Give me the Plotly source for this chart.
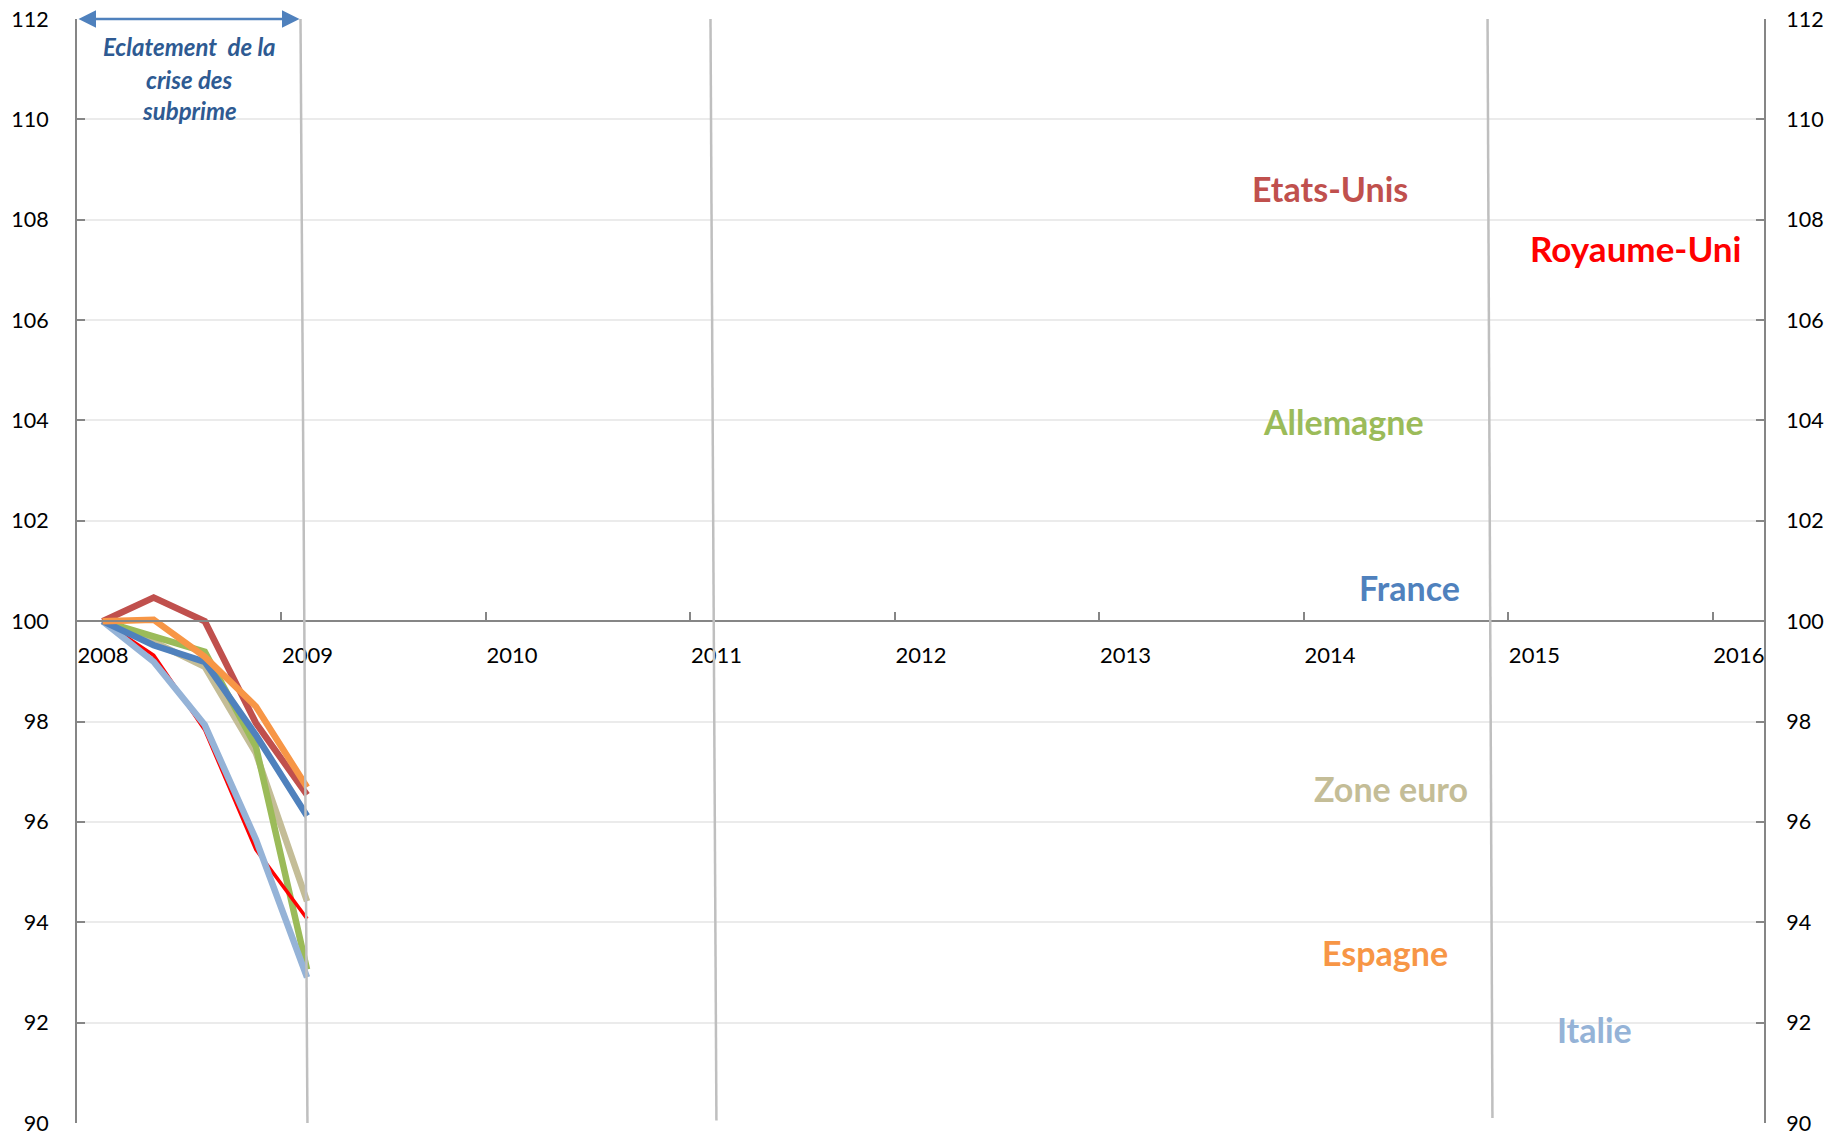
import plotly.graph_objects as go

# ---- data ----
quarters = [2008.125, 2008.375, 2008.625, 2008.875, 2009.125]
etats_unis = [100.0, 100.47, 100.0, 97.97, 96.54]
royaume_uni = [100.0, 99.32, 97.83, 95.45, 94.07]
allemagne = [100.0, 99.69, 99.39, 97.50, 93.06]
france = [100.0, 99.52, 99.19, 97.73, 96.12]
zone_euro = [100.0, 99.59, 99.09, 97.37, 94.42]
espagne = [100.0, 100.03, 99.29, 98.30, 96.69]
italie = [100.0, 99.19, 97.93, 95.65, 92.90]

year_ticks = [2008, 2009, 2010, 2011, 2012, 2013, 2014, 2015, 2016]
year_labels = [str(y) for y in year_ticks]
y_ticks = list(range(90, 113, 2))

# event markers (top x, bottom x) in years
event_lines = [(2009.093, 2009.127), (2011.098, 2011.127), (2014.898, 2014.922)]
event_bottoms = [90.0, 90.05, 90.1]

series = [
    ("Zone euro", zone_euro, "#C4BD97", 6.5, 2014.424, 96.66),
    ("Allemagne", allemagne, "#9BBB59", 6.5, 2014.195, 103.98),
    ("Royaume-Uni", royaume_uni, "#FF0000", 3.6, 2015.624, 107.44),
    ("Italie", italie, "#95B3D7", 6.5, 2015.42, 91.87),
    ("Etats-Unis", etats_unis, "#C0504D", 6.5, 2014.127, 108.63),
    ("France", france, "#4F81BD", 6.5, 2014.517, 100.68),
    ("Espagne", espagne, "#F79646", 6.5, 2014.395, 93.40),
]

FONT = "Lato"
AXIS_COLOR = "#868686"

fig = go.Figure()
for name, vals, color, w, lx, ly in series:
    fig.add_trace(go.Scatter(x=quarters, y=vals, mode="lines", name=name,
                             line=dict(color=color, width=w), showlegend=False,
                             hoverinfo="skip"))
    size = 35 if name == "Royaume-Uni" else 34
    fig.add_annotation(x=lx, y=ly, text="<b>%s</b>" % name, showarrow=False,
                       font=dict(family=FONT, size=size, color=color),
                       xanchor="center", yanchor="middle")

# dummy trace for right axis
fig.add_trace(go.Scatter(x=[None], y=[None], yaxis="y2", showlegend=False))

for (xt, xb), yb in zip(event_lines, event_bottoms):
    fig.add_shape(type="line", xref="x", yref="y", x0=xt, y0=112, x1=xb, y1=yb,
                  line=dict(color="#BFBFBF", width=2.5), layer="above")

# double arrow "Eclatement de la crise des subprime"
fig.add_annotation(x=2009.088, y=112, ax=2008.0, ay=112, xref="x", yref="y",
                   axref="x", ayref="y", text="", showarrow=True,
                   arrowhead=2, startarrowhead=2, arrowside="end+start",
                   arrowsize=1.4, startarrowsize=1.4, arrowwidth=2.5,
                   arrowcolor="#4F81BD")
subprime_lines = ["Eclatement  de la", "crise des", "subprime"]
subprime_y = [111.45, 110.8, 110.17]
for txt, yy in zip(subprime_lines, subprime_y):
    fig.add_annotation(x=2008.551, y=yy, text="<b><i>%s</i></b>" % txt,
                       showarrow=False, xanchor="center", yanchor="middle",
                       font=dict(family=FONT, size=24, color="#2E5A92"))

yaxis_common = dict(range=[90, 112], tickvals=y_ticks, ticks="inside",
                    ticklen=8, tickwidth=2, tickcolor=AXIS_COLOR,
                    showline=True, linecolor=AXIS_COLOR, linewidth=2,
                    zeroline=False, automargin=False, ticklabeloverflow="allow",
                    tickfont=dict(family=FONT, size=21.5, color="#000"))

fig.update_layout(
    width=1833, height=1137,
    margin=dict(l=77, r=69, t=19, b=14, autoexpand=False),
    plot_bgcolor="white", paper_bgcolor="white",
    xaxis=dict(range=[2008.0, 2016.25], tickvals=year_ticks, ticktext=year_labels,
               ticks="inside", ticklen=8, tickwidth=2, tickcolor=AXIS_COLOR,
               showline=True, linecolor=AXIS_COLOR, linewidth=2,
               showgrid=False, zeroline=False, anchor="free",
               position=(100 - 90) / 22, automargin=False,
               ticklabeloverflow="allow",
               tickfont=dict(family=FONT, size=22, color="#000"),
               ticklabelshift=26, ticklabelstandoff=14),
    yaxis=dict(**yaxis_common, side="left", showgrid=True,
               gridcolor="#EBEBEB", gridwidth=2, ticklabelstandoff=22),
    yaxis2=dict(**yaxis_common, side="right", overlaying="y", showgrid=False,
                ticklabelstandoff=16),
)

# remove the default 8px page margin so the figure fills the window exactly
fig.write_html("out.html", config={"displayModeBar": False},
               post_script="document.body.style.margin='0';"
                           "document.body.style.overflow='hidden';")
